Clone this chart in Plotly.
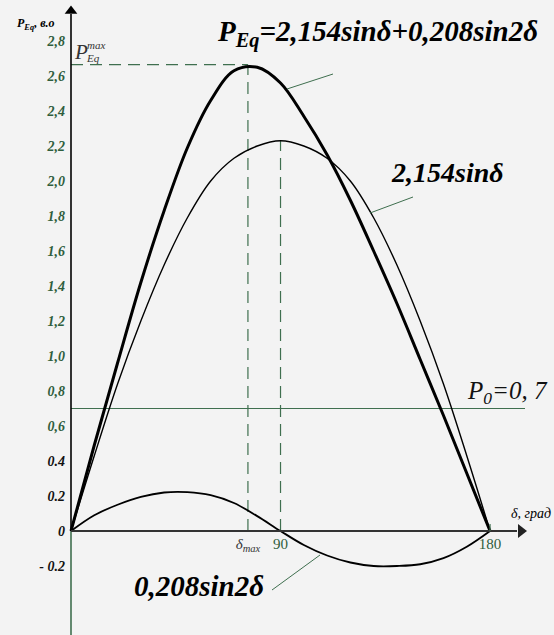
import plotly.graph_objects as go

# ---------------- data ----------------
delta_deg = [0, 10, 20, 30, 40, 50, 60, 70, 80, 90, 100, 110, 120, 130, 140, 150, 160, 170, 180]
p_eq_total = [0, 0.49, 0.96, 1.42, 1.83, 2.19, 2.46, 2.63, 2.65, 2.56, 2.37, 2.15, 1.89, 1.60, 1.30, 0.98, 0.66, 0.33, 0]
p_sin = [0, 0.43, 0.84, 1.20, 1.52, 1.79, 2.00, 2.13, 2.20, 2.23, 2.20, 2.13, 2.00, 1.79, 1.52, 1.20, 0.84, 0.43, 0]
p_sin2 = [0, 0.09, 0.15, 0.195, 0.22, 0.222, 0.205, 0.16, 0.085, 0, -0.08, -0.14, -0.18, -0.20, -0.20, -0.19, -0.155, -0.09, 0]

p0_value = 0.7
delta_max = 76
p_eq_max = 2.665
p_sin_max = 2.23

y_tick_vals = [2.8, 2.6, 2.4, 2.2, 2.0, 1.8, 1.6, 1.4, 1.2, 1.0, 0.8, 0.6, 0.4, 0.2, 0, -0.2]
y_tick_text = ["2,8", "2,6", "2,4", "2,2", "2,0", "1,8", "1,6", "1,4", "1,2", "1,0", "0,8", "0,6",
               "0.4", "0.2", "0", "- 0.2"]
x_tick_vals = [delta_max, 90, 180]
x_tick_text = ["δ<sub>max</sub>", "90", "180"]

# ---------------- layout helpers (pixel -> data) ----------------
W, H = 554, 635
X0, XS = 71, 2.328     # pixel of delta=0, px per degree
Y0, YS = 531, 175      # pixel of P=0, px per unit


def fx(px):
    return (px - X0) / XS


def fy(py):
    return (Y0 - py) / YS


GREEN = "#2f5e3d"
GREEN_LINE = "#3f6f4f"
SERIF = "Liberation Serif"
DASH = dict(color=GREEN_LINE, width=1.2, dash="12px,7px")

fig = go.Figure()

# dashed guide lines
fig.add_trace(go.Scatter(x=[0, delta_max], y=[p_eq_max, p_eq_max], mode="lines", line=DASH, hoverinfo="skip"))
fig.add_trace(go.Scatter(x=[delta_max, delta_max], y=[0, p_eq_max], mode="lines", line=DASH, hoverinfo="skip"))
fig.add_trace(go.Scatter(x=[90, 90], y=[0, p_sin_max], mode="lines", line=DASH, hoverinfo="skip"))
# P0 line
fig.add_trace(go.Scatter(x=[0, fx(525)], y=[p0_value, p0_value], mode="lines",
                         line=dict(color=GREEN_LINE, width=1.2), hoverinfo="skip"))

# curves
fig.add_trace(go.Scatter(x=delta_deg, y=p_sin2, mode="lines", line=dict(color="black", width=1.8, shape="spline")))
fig.add_trace(go.Scatter(x=delta_deg, y=p_sin, mode="lines", line=dict(color="black", width=1.4, shape="spline")))
fig.add_trace(go.Scatter(x=delta_deg, y=p_eq_total, mode="lines", line=dict(color="black", width=3, shape="spline")))

# axis arrowheads
fig.add_trace(go.Scatter(x=[0], y=[fy(11)], mode="markers", hoverinfo="skip",
                         marker=dict(symbol="triangle-up", size=11, color="black", line=dict(width=0))))
fig.add_trace(go.Scatter(x=[fx(521)], y=[0], mode="markers", hoverinfo="skip",
                         marker=dict(symbol="triangle-right", size=12, color="#222222", line=dict(width=0))))

shapes = [
    # y axis (black above 0, green below)
    dict(type="line", xref="x", yref="y", x0=0, x1=0, y0=0, y1=fy(14), line=dict(color="black", width=1.6)),
    dict(type="line", xref="x", yref="y", x0=0, x1=0, y0=fy(H), y1=0, line=dict(color=GREEN_LINE, width=1.6)),
    # x axis
    dict(type="line", xref="x", yref="y", x0=0, x1=fx(517), y0=0, y1=0, line=dict(color="#333333", width=2)),
    # tick at 180
    dict(type="line", xref="x", yref="y", x0=180, x1=180, y0=0, y1=fy(524), line=dict(color=GREEN_LINE, width=1.2)),
    # leader lines
    dict(type="line", xref="x", yref="y", x0=fx(287), y0=fy(89), x1=fx(333), y1=fy(74), line=dict(color=GREEN_LINE, width=1)),
    dict(type="line", xref="x", yref="y", x0=fx(370), y0=fy(213), x1=fx(413), y1=fy(197), line=dict(color=GREEN_LINE, width=1)),
    dict(type="line", xref="x", yref="y", x0=fx(320), y0=fy(555), x1=fx(272), y1=fy(590), line=dict(color=GREEN_LINE, width=1)),
]

ann = [
    dict(x=fx(377), y=fy(33), text="<b><i>P<sub>Eq</sub>=2,154sinδ+0,208sin2δ</i></b>",
         font=dict(family=SERIF, size=29, color="black")),
    dict(x=fx(447), y=fy(172), text="<b><i>2,154sinδ</i></b>", font=dict(family=SERIF, size=28, color="black")),
    dict(x=fx(199), y=fy(586), text="<b><i>0,208sin2δ</i></b>", font=dict(family=SERIF, size=29, color="black")),
    dict(x=fx(550), y=fy(392), xanchor="right", text="<i>P<sub>0</sub>=0, 7</i>",
         font=dict(family=SERIF, size=25, color="#111111")),
    dict(x=fx(36), y=fy(24), text="<b><i>P<sub>Eq</sub>, в.о</i></b>", font=dict(family=SERIF, size=12, color="black")),
    dict(x=fx(553), y=fy(513), xanchor="right", text="<i>δ, град</i>", font=dict(family=SERIF, size=14, color="black")),
    dict(x=fx(72), y=fy(52), xanchor="left", text="<i>P</i>", font=dict(family=SERIF, size=21, color="#333333")),
    dict(x=fx(85), y=fy(45), xanchor="left", text="<i>max</i>", font=dict(family=SERIF, size=11, color="#333333")),
    dict(x=fx(84), y=fy(58), xanchor="left", text="<i>Eq</i>", font=dict(family=SERIF, size=11, color="#333333")),
]
for a in ann:
    a.setdefault("showarrow", False)
    a.setdefault("xref", "x")
    a.setdefault("yref", "y")

ticktext_y = []
for v, t in zip(y_tick_vals, y_tick_text):
    col = GREEN if v >= 0.6 else "#111111"
    ticktext_y.append(f"<span style='color:{col}'>{t}</span>")

ticktext_x = [
    f"<span style='color:#333333'><i>{x_tick_text[0]}</i></span>",
    f"<span style='color:{GREEN}'>{x_tick_text[1]}</span>",
    f"<span style='color:{GREEN}'>{x_tick_text[2]}</span>",
]

fig.update_layout(
    width=W, height=H,
    margin=dict(l=0, r=0, t=0, b=0),
    paper_bgcolor="#f3f3f3", plot_bgcolor="#f3f3f3",
    showlegend=False,
    hovermode=False,
    shapes=shapes,
    annotations=ann,
    xaxis=dict(range=[fx(0), fx(W)], showgrid=False, zeroline=False, showline=False,
               anchor="free", position=(H - Y0) / H, automargin=False,
               tickmode="array", tickvals=x_tick_vals, ticktext=ticktext_x, ticks="",
               ticklabelstandoff=2,
               tickfont=dict(family=SERIF, size=15, color=GREEN)),
    yaxis=dict(range=[fy(H), fy(0)], showgrid=False, zeroline=False, showline=False,
               anchor="free", position=X0 / W, automargin=False,
               tickmode="array", tickvals=y_tick_vals, ticktext=ticktext_y, ticks="",
               ticklabelstandoff=6,
               tickfont=dict(family=SERIF, size=14, color=GREEN, weight="bold", style="italic")),
)

fig.write_html("out.html", config={"displayModeBar": False},
               post_script="document.body.style.margin='0';document.body.style.background='#f3f3f3';")
